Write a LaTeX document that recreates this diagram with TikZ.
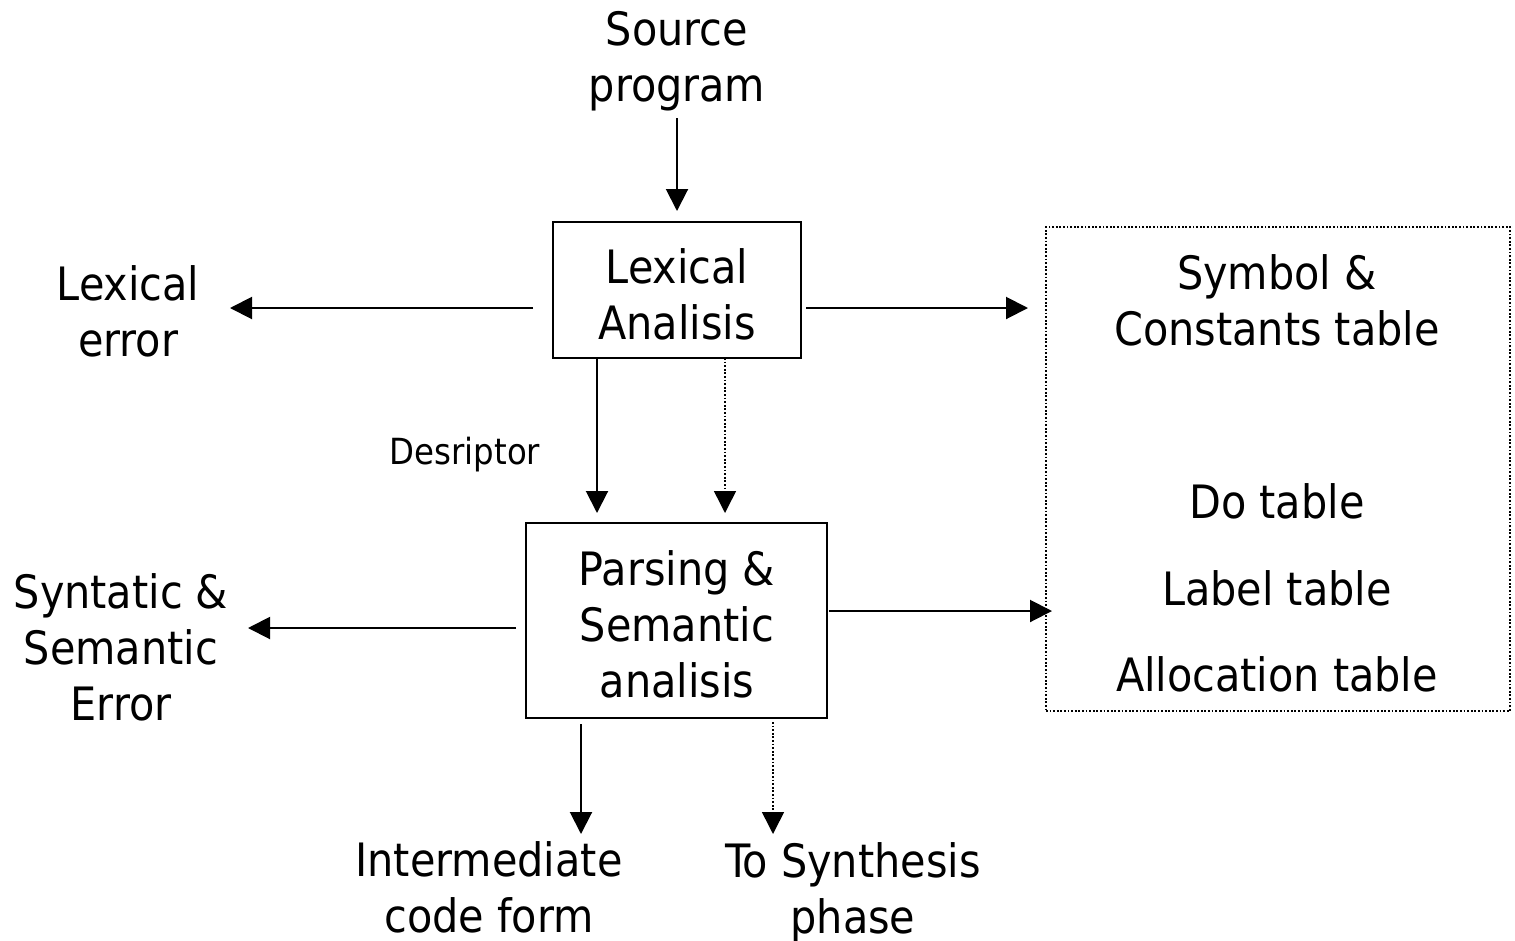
\documentclass[tikz,border=0pt]{standalone}
\usepackage{fontspec}
\setmainfont{DejaVu Sans Condensed}
\usetikzlibrary{arrows.meta}
\begin{document}
\begin{tikzpicture}[x=1pt,y=-1pt,
  big/.style={font=\fontsize{46}{56}\selectfont,align=center,inner sep=0pt},
  small/.style={font=\fontsize{36}{42}\selectfont,inner sep=0pt},
  box/.style={draw,line width=2pt,inner sep=0pt},
  arr/.style={line width=2pt,-{Triangle[width=22pt,length=22pt]}},
  dots/.style={line width=1.5pt,dash pattern=on 1.8pt off 1.8pt},
  darr/.style={dots,-{Triangle[width=22pt,length=22pt]}}
]
\useasboundingbox (0,0) rectangle (1515,940);
\node[big] (src) at (677,61) {Source\\program};
\node[box,minimum width=248pt,minimum height=136pt] (lex) at (677,290) {};
\node[big] (lext) at (677,294) {Lexical\\Analisis};
\node[big] (lexerr) at (128,311) {Lexical\\error};
\node[draw,dots,minimum width=464pt,minimum height=484pt,inner sep=0pt] (tab) at (1278,469) {};
\node[big] (symt) at (1277,300) {Symbol \&\\Constants table};
\node[big] (dot) at (1277,501) {Do table};
\node[big] (labt) at (1277,588) {Label table};
\node[big] (allt) at (1277,674) {Allocation table};
\node[small] (desc) at (465,455) {Desriptor};
\node[box,minimum width=301pt,minimum height=195pt] (par) at (676.5,620.5) {};
\node[big] (part) at (677,624) {Parsing \&\\Semantic\\analisis};
\node[big] (synerr) at (121,647) {Syntatic \&\\Semantic\\Error};
\node[big] (inter) at (489,887) {Intermediate\\code form};
\node[big] (synth) at (853,893) {To Synthesis\\phase};
% connectors
\coordinate (srcS) at (677,118);
\draw[arr] (srcS) -- (lex.north |- 0,211);
\coordinate (lexW) at (533,308);
\coordinate (lexE) at (806,308);
\draw[arr] (lexW) -- (230,308);
\draw[arr] (lexE) -- (1028,308);
\draw[arr] (597,358) -- (597,513);
\draw[darr] (725,358) -- (725,513);
\draw[arr] (516,628) -- (248,628);
\draw[arr] (829,611) -- (1052,611);
\draw[arr] (581,724) -- (581,834);
\draw[darr] (773,722) -- (773,834);
\end{tikzpicture}
\end{document}
